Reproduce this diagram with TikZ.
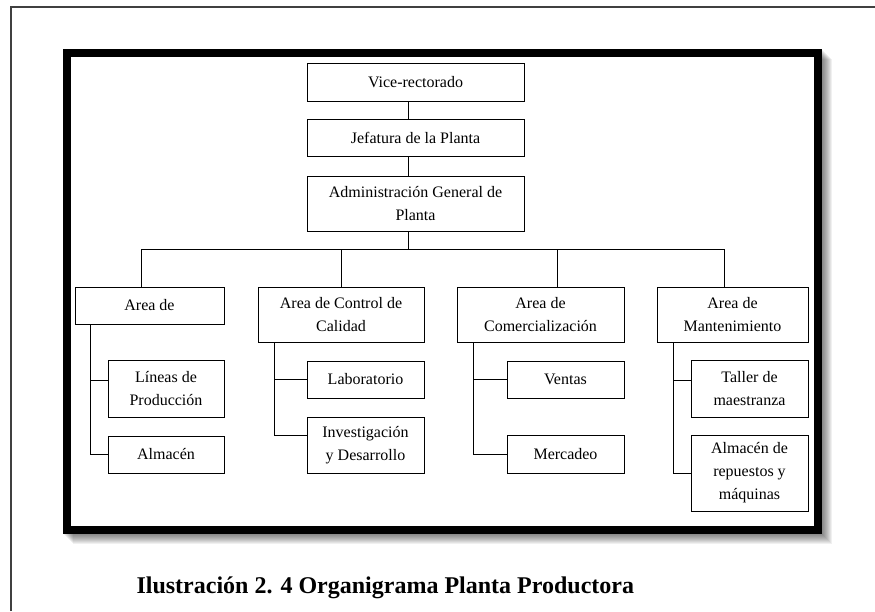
\documentclass[tikz,border=0pt]{standalone}
\usepackage{fontspec}
\setmainfont{Liberation Serif}
\newcommand{\cajafont}{\fontsize{16}{23}\selectfont}
\tikzset{
	caja/.style={draw, line width=1pt, fill=white, align=center, inner sep=0pt, font=\cajafont},
	linea/.style={line width=1pt},
}
\begin{document}
\begin{tikzpicture}[x=1pt, y=-1pt]
	\useasboundingbox (0,0) rectangle (875,611);
	\draw [line width=1.2pt, black!75] (11,611) -- (11,7) -- (875,7);
	% marco con sombra
	\foreach \s in {1,...,10}
		\fill [black, opacity=0.06] (63+\s,49+\s) rectangle (822+\s,534+\s);
	\draw [line width=8pt, fill=white] (67,53) rectangle (818,530);

	\node [caja, minimum width=217pt, minimum height=38pt] (vice) at (415.5,82) {Vice-rectorado};
	\node [caja, minimum width=217pt, minimum height=37pt] (jef) at (415.5,137.5) {Jefatura de la Planta};
	\node [caja, minimum width=217pt, minimum height=55pt] (adm) at (415.5,203.5) {Administración General de\\Planta};

	\node [caja, minimum width=149pt, minimum height=37pt] (a1) at (149.5,305.5) {Area de};
	\node [caja, minimum width=166pt, minimum height=55pt] (a2) at (341,314.5) {Area de Control de\\Calidad};
	\node [caja, minimum width=167pt, minimum height=55pt] (a3) at (540.5,314.5) {Area de\\Comercialización};
	\node [caja, minimum width=151pt, minimum height=55pt] (a4) at (732.5,314.5) {Area de\\Mantenimiento};

	\node [caja, minimum width=116pt, minimum height=57pt] (lin) at (166,388.5) {Líneas de\\Producción};
	\node [caja, minimum width=116pt, minimum height=37pt] (alm) at (166,454.5) {Almacén};
	\node [caja, minimum width=117pt, minimum height=37pt] (lab) at (365.5,379.5) {Laboratorio};
	\node [caja, minimum width=117pt, minimum height=56pt] (inv) at (365.5,445) {Investigación\\y Desarrollo};
	\node [caja, minimum width=117pt, minimum height=37pt] (ven) at (565.5,379.5) {Ventas};
	\node [caja, minimum width=117pt, minimum height=38pt] (mer) at (565.5,454) {Mercadeo};
	\node [caja, minimum width=117pt, minimum height=57pt] (tal) at (749.5,388.5) {Taller de\\maestranza};
	\node [caja, minimum width=117pt, minimum height=76pt] (rep) at (749.5,473) {Almacén de\\repuestos y\\máquinas};

	\draw [linea] ([xshift=-7.5pt]vice.south) -- ([xshift=-7.5pt]jef.north);
	\draw [linea] ([xshift=-7.5pt]jef.south) -- ([xshift=-7.5pt]adm.north);
	\coordinate (bus) at (408,249);
	\draw [linea] ([xshift=-7.5pt]adm.south) -- (bus);
	\draw [linea] ([xshift=-8.5pt]a1.north) |- (bus);
	\draw [linea] (a2.north) |- (bus);
	\draw [linea] ([xshift=16.5pt]a3.north) |- (bus);
	\draw [linea] ([xshift=-8.5pt]a4.north) |- (bus);

	\draw [linea] ([xshift=16pt]a1.south west) |- ([yshift=8.5pt]lin.west);
	\draw [linea] ([xshift=16pt]a1.south west) |- (alm.west);
	\draw [linea] ([xshift=17pt]a2.south west) |- (lab.west);
	\draw [linea] ([xshift=17pt]a2.south west) |- ([yshift=10pt]inv.west);
	\draw [linea] ([xshift=17pt]a3.south west) |- (ven.west);
	\draw [linea] ([xshift=17pt]a3.south west) |- (mer.west);
	\draw [linea] ([xshift=17pt]a4.south west) |- ([yshift=8.5pt]tal.west);
	\draw [linea] ([xshift=17pt]a4.south west) |- (rep.west);

	\node [anchor=base west, font=\fontsize{24}{28}\selectfont\bfseries] (titulo) at (133,593) {Ilustración 2. 4 Organigrama Planta Productora};
\end{tikzpicture}
\end{document}
